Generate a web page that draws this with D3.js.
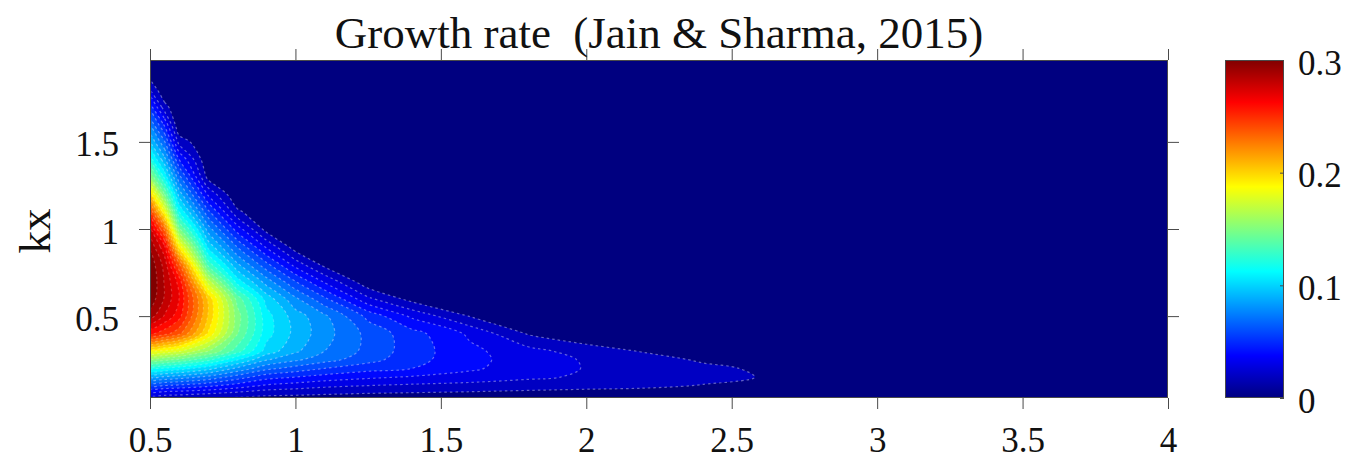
<!DOCTYPE html>
<html><head><meta charset="utf-8">
<script src="https://cdn.jsdelivr.net/npm/d3@7"></script>
<style>
html,body{margin:0;padding:0;background:#fff;}
svg{display:block;}
text{font-family:"Liberation Serif","Times New Roman",serif;fill:#111;}
</style></head><body>
<svg id="chart" width="1365" height="469"></svg>
<script>
// ---- data ----
const xValues = [0.5, 0.55, 0.6, 0.7, 0.8, 0.9, 1.0, 1.1, 1.25, 1.4, 1.6, 1.8, 2.0, 2.2, 2.4, 2.6, 3.0, 4.0];
const kxValues = [0.03, 0.06, 0.1, 0.15, 0.2, 0.25, 0.3, 0.4, 0.5, 0.6, 0.7, 0.8, 0.9, 1.0, 1.1, 1.2, 1.3, 1.4, 1.5, 1.6, 1.7, 1.8, 1.9, 1.97];
// growth rate: one row per x value, listed over kxValues
const growthRate = [
  [0.015, 0.027, 0.05, 0.08, 0.112, 0.146, 0.182, 0.25, 0.285, 0.297, 0.30, 0.297, 0.288, 0.272, 0.24, 0.195, 0.15, 0.115, 0.09, 0.068, 0.045, 0.02, 0, 0],
  [0.0135, 0.026, 0.049, 0.078, 0.109, 0.143, 0.178, 0.244, 0.269, 0.279, 0.279, 0.276, 0.262, 0.227, 0.18, 0.14, 0.107, 0.083, 0.061, 0.038, 0.014, 0, 0, 0],
  [0.0128, 0.025, 0.047, 0.075, 0.105, 0.138, 0.172, 0.233, 0.254, 0.26, 0.256, 0.231, 0.186, 0.143, 0.11, 0.086, 0.063, 0.04, 0.016, 0, 0, 0, 0, 0],
  [0.0108, 0.022, 0.042, 0.067, 0.094, 0.123, 0.151, 0.189, 0.199, 0.198, 0.165, 0.125, 0.097, 0.075, 0.052, 0.028, 0.006, 0, 0, 0, 0, 0, 0, 0],
  [0.0087, 0.0186, 0.035, 0.055, 0.078, 0.101, 0.125, 0.141, 0.145, 0.136, 0.105, 0.081, 0.059, 0.035, 0.012, 0, 0, 0, 0, 0, 0, 0, 0, 0],
  [0.0068, 0.0147, 0.028, 0.044, 0.063, 0.081, 0.096, 0.104, 0.104, 0.096, 0.075, 0.052, 0.028, 0.006, 0, 0, 0, 0, 0, 0, 0, 0, 0, 0],
  [0.0061, 0.0135, 0.025, 0.04, 0.056, 0.072, 0.082, 0.087, 0.085, 0.072, 0.05, 0.025, 0.004, 0, 0, 0, 0, 0, 0, 0, 0, 0, 0, 0],
  [0.0054, 0.0122, 0.022, 0.036, 0.05, 0.064, 0.07, 0.074, 0.072, 0.052, 0.028, 0.006, 0, 0, 0, 0, 0, 0, 0, 0, 0, 0, 0, 0],
  [0.0047, 0.0107, 0.0197, 0.032, 0.044, 0.0537, 0.057, 0.057, 0.047, 0.022, 0.002, 0, 0, 0, 0, 0, 0, 0, 0, 0, 0, 0, 0, 0],
  [0.0042, 0.0099, 0.018, 0.029, 0.04, 0.0437, 0.045, 0.044, 0.028, 0.006, 0, 0, 0, 0, 0, 0, 0, 0, 0, 0, 0, 0, 0, 0],
  [0.0038, 0.0089, 0.0162, 0.026, 0.0317, 0.033, 0.0325, 0.028, 0.0095, 0, 0, 0, 0, 0, 0, 0, 0, 0, 0, 0, 0, 0, 0, 0],
  [0.0034, 0.0078, 0.0143, 0.022, 0.0246, 0.025, 0.0235, 0.009, 0, 0, 0, 0, 0, 0, 0, 0, 0, 0, 0, 0, 0, 0, 0, 0],
  [0.0031, 0.007, 0.0129, 0.0184, 0.0195, 0.019, 0.015, 0.002, 0, 0, 0, 0, 0, 0, 0, 0, 0, 0, 0, 0, 0, 0, 0, 0],
  [0.0029, 0.0064, 0.0118, 0.0155, 0.016, 0.0145, 0.009, 0, 0, 0, 0, 0, 0, 0, 0, 0, 0, 0, 0, 0, 0, 0, 0, 0],
  [0.0026, 0.0059, 0.0095, 0.0127, 0.0125, 0.0085, 0.002, 0, 0, 0, 0, 0, 0, 0, 0, 0, 0, 0, 0, 0, 0, 0, 0, 0],
  [0.0022, 0.005, 0.0082, 0.0097, 0.0085, 0.004, 0.001, 0, 0, 0, 0, 0, 0, 0, 0, 0, 0, 0, 0, 0, 0, 0, 0, 0],
  [0.0015, 0.003, 0.0045, 0.0048, 0.003, 0.0015, 0.0005, 0, 0, 0, 0, 0, 0, 0, 0, 0, 0, 0, 0, 0, 0, 0, 0, 0],
  [0.0005, 0.001, 0.0012, 0.001, 0.0005, 0, 0, 0, 0, 0, 0, 0, 0, 0, 0, 0, 0, 0, 0, 0, 0, 0, 0, 0]
];
const contourLevels = [0.01, 0.02, 0.03, 0.04, 0.05, 0.06, 0.07, 0.08, 0.09, 0.10, 0.11, 0.12, 0.13, 0.14, 0.15,
                       0.16, 0.17, 0.18, 0.19, 0.20, 0.21, 0.22, 0.23, 0.24, 0.25, 0.26, 0.27, 0.28, 0.29];
const colorDomain = [0, 0.3];
const xTicks = [0.5, 1, 1.5, 2, 2.5, 3, 3.5, 4];
const kxTicks = [0.5, 1, 1.5];
const colorTicks = [0, 0.1, 0.2, 0.3];
const titleText = "Growth rate  (Jain & Sharma, 2015)";
const yLabel = "kx";

// ---- layout ----
const P = {left: 150, right: 1168, top: 60, bottom: 398};
const CB = {left: 1225, right: 1284, top: 60, bottom: 398};
const frameColor = "#4a4a4a";

function jet(t) {
  t = Math.max(0, Math.min(1, t));
  const c = v => Math.round(255 * Math.max(0, Math.min(1, v)));
  return `rgb(${c(1.5 - Math.abs(4 * t - 3))},${c(1.5 - Math.abs(4 * t - 2))},${c(1.5 - Math.abs(4 * t - 1))})`;
}
const cNorm = d3.scaleLinear().domain(colorDomain).range([0, 1]).clamp(true);

const svg = d3.select("#chart");
const x = d3.scaleLinear().domain([0.5, 4]).range([P.left, P.right]);
const y = d3.scaleLinear().domain([0.03, 1.97]).range([P.bottom, P.top]);

const nx = xValues.length, ny = kxValues.length;
const grid = new Array(nx * ny);
for (let j = 0; j < ny; j++) for (let i = 0; i < nx; i++) grid[j * nx + i] = growthRate[i][j];

const ix = d3.scaleLinear().domain(d3.range(nx)).range(xValues);
const iy = d3.scaleLinear().domain(d3.range(ny)).range(kxValues);
const toPx = ([px, py]) => [
  x(ix(Math.max(0, Math.min(nx - 1, px - 0.5)))),
  y(iy(Math.max(0, Math.min(ny - 1, py - 0.5))))
];
const contours = d3.contours().size([nx, ny]).thresholds(contourLevels)(grid);
const ringLine = d3.line().curve(d3.curveCatmullRomClosed.alpha(0.5));
function smoothPath(c) {
  return c.coordinates.map(poly => poly.map(ring => {
    const pts = [];
    ring.slice(0, -1).forEach(p => {
      const q = toPx(p);
      const last = pts[pts.length - 1];
      if (!last || Math.abs(last[0] - q[0]) > 0.01 || Math.abs(last[1] - q[1]) > 0.01) pts.push(q);
    });
    return pts.length > 2 ? ringLine(pts) : "";
  }).join("")).join("");
}

const defs = svg.append("defs");
defs.append("clipPath").attr("id", "plotClip").append("rect")
  .attr("x", P.left).attr("y", P.top).attr("width", P.right - P.left).attr("height", P.bottom - P.top);
defs.append("clipPath").attr("id", "lineClip").append("rect")
  .attr("x", P.left + 1.5).attr("y", P.top + 1.5).attr("width", P.right - P.left - 3).attr("height", P.bottom - P.top - 3);

const plot = svg.append("g").attr("clip-path", "url(#plotClip)");
plot.append("rect").attr("x", P.left).attr("y", P.top)
  .attr("width", P.right - P.left).attr("height", P.bottom - P.top)
  .attr("fill", jet(0));

plot.selectAll("path.band").data(contours).join("path")
  .attr("class", "band")
  .attr("d", smoothPath)
  .attr("fill-rule", "evenodd")
  .attr("fill", (d, i) => jet(cNorm(i + 1 < contourLevels.length ? contourLevels[i + 1] : colorDomain[1])))
  .attr("stroke", "none");

svg.append("g").attr("clip-path", "url(#lineClip)")
  .selectAll("path.cline").data(contours).join("path")
  .attr("class", "cline")
  .attr("d", smoothPath)
  .attr("fill", "none")
  .attr("stroke", d => d3.interpolateRgb(jet(cNorm(d.value)), "#ffffff")(0.5))
  .attr("stroke-opacity", d => d.value < 0.1 ? 0.75 : 0.4)
  .attr("stroke-width", 1.2)
  .attr("stroke-dasharray", "2.5,3");

// frame
svg.append("rect").attr("x", P.left + 0.5).attr("y", P.top + 0.5)
  .attr("width", P.right - P.left - 1).attr("height", P.bottom - P.top - 1)
  .attr("fill", "none").attr("stroke", frameColor).attr("stroke-width", 1);

function styleAxis(g) {
  g.select(".domain").remove();
  g.selectAll(".tick line").attr("stroke", frameColor);
  g.selectAll(".tick text").attr("font-family", "Liberation Serif, Times New Roman, serif")
    .attr("font-size", 35).attr("fill", "#111");
}
svg.append("g").attr("transform", `translate(0,${P.bottom})`)
  .call(d3.axisBottom(x).tickValues(xTicks).tickSize(11).tickPadding(18).tickFormat(d => String(d)))
  .call(styleAxis);
svg.append("g").attr("transform", `translate(0,${P.top})`)
  .call(d3.axisTop(x).tickValues(xTicks).tickSize(11).tickFormat(""))
  .call(styleAxis);
svg.append("g").attr("transform", `translate(${P.left},0)`)
  .call(d3.axisLeft(y).tickValues(kxTicks).tickSize(11).tickPadding(20).tickFormat(d => String(d)))
  .call(styleAxis)
  .call(g => g.selectAll(".tick text").attr("dy", "0.4em"));
svg.append("g").attr("transform", `translate(${P.right},0)`)
  .call(d3.axisRight(y).tickValues(kxTicks).tickSize(11).tickFormat(""))
  .call(styleAxis);

// colorbar
const grad = defs.append("linearGradient").attr("id", "jetGrad")
  .attr("x1", 0).attr("y1", 1).attr("x2", 0).attr("y2", 0);
d3.range(0, 1.0001, 0.025).forEach(t => grad.append("stop").attr("offset", t).attr("stop-color", jet(t)));
svg.append("rect").attr("x", CB.left).attr("y", CB.top)
  .attr("width", CB.right - CB.left).attr("height", CB.bottom - CB.top)
  .attr("fill", "url(#jetGrad)");
svg.append("rect").attr("x", CB.left + 0.5).attr("y", CB.top + 0.5)
  .attr("width", CB.right - CB.left - 1).attr("height", CB.bottom - CB.top - 1)
  .attr("fill", "none").attr("stroke", frameColor).attr("stroke-width", 1);
const cScale = d3.scaleLinear().domain(colorDomain).range([CB.bottom, CB.top]);
svg.append("g").attr("transform", `translate(${CB.right},0)`)
  .call(d3.axisRight(cScale).tickValues(colorTicks).tickSizeInner(-4).tickSizeOuter(0).tickPadding(14).tickFormat(d => String(d)))
  .call(styleAxis)
  .call(g => g.selectAll(".tick text").attr("dy", "0.4em"));

// title and label
svg.append("text").attr("x", (P.left + P.right) / 2).attr("y", 48)
  .attr("text-anchor", "middle").attr("font-size", 45)
  .style("white-space", "pre").text(titleText);
svg.append("text").attr("transform", `translate(50,${(P.top + P.bottom) / 2 + 2}) rotate(-90)`)
  .attr("text-anchor", "middle").attr("font-size", 45).text(yLabel);
</script>
</body></html>
